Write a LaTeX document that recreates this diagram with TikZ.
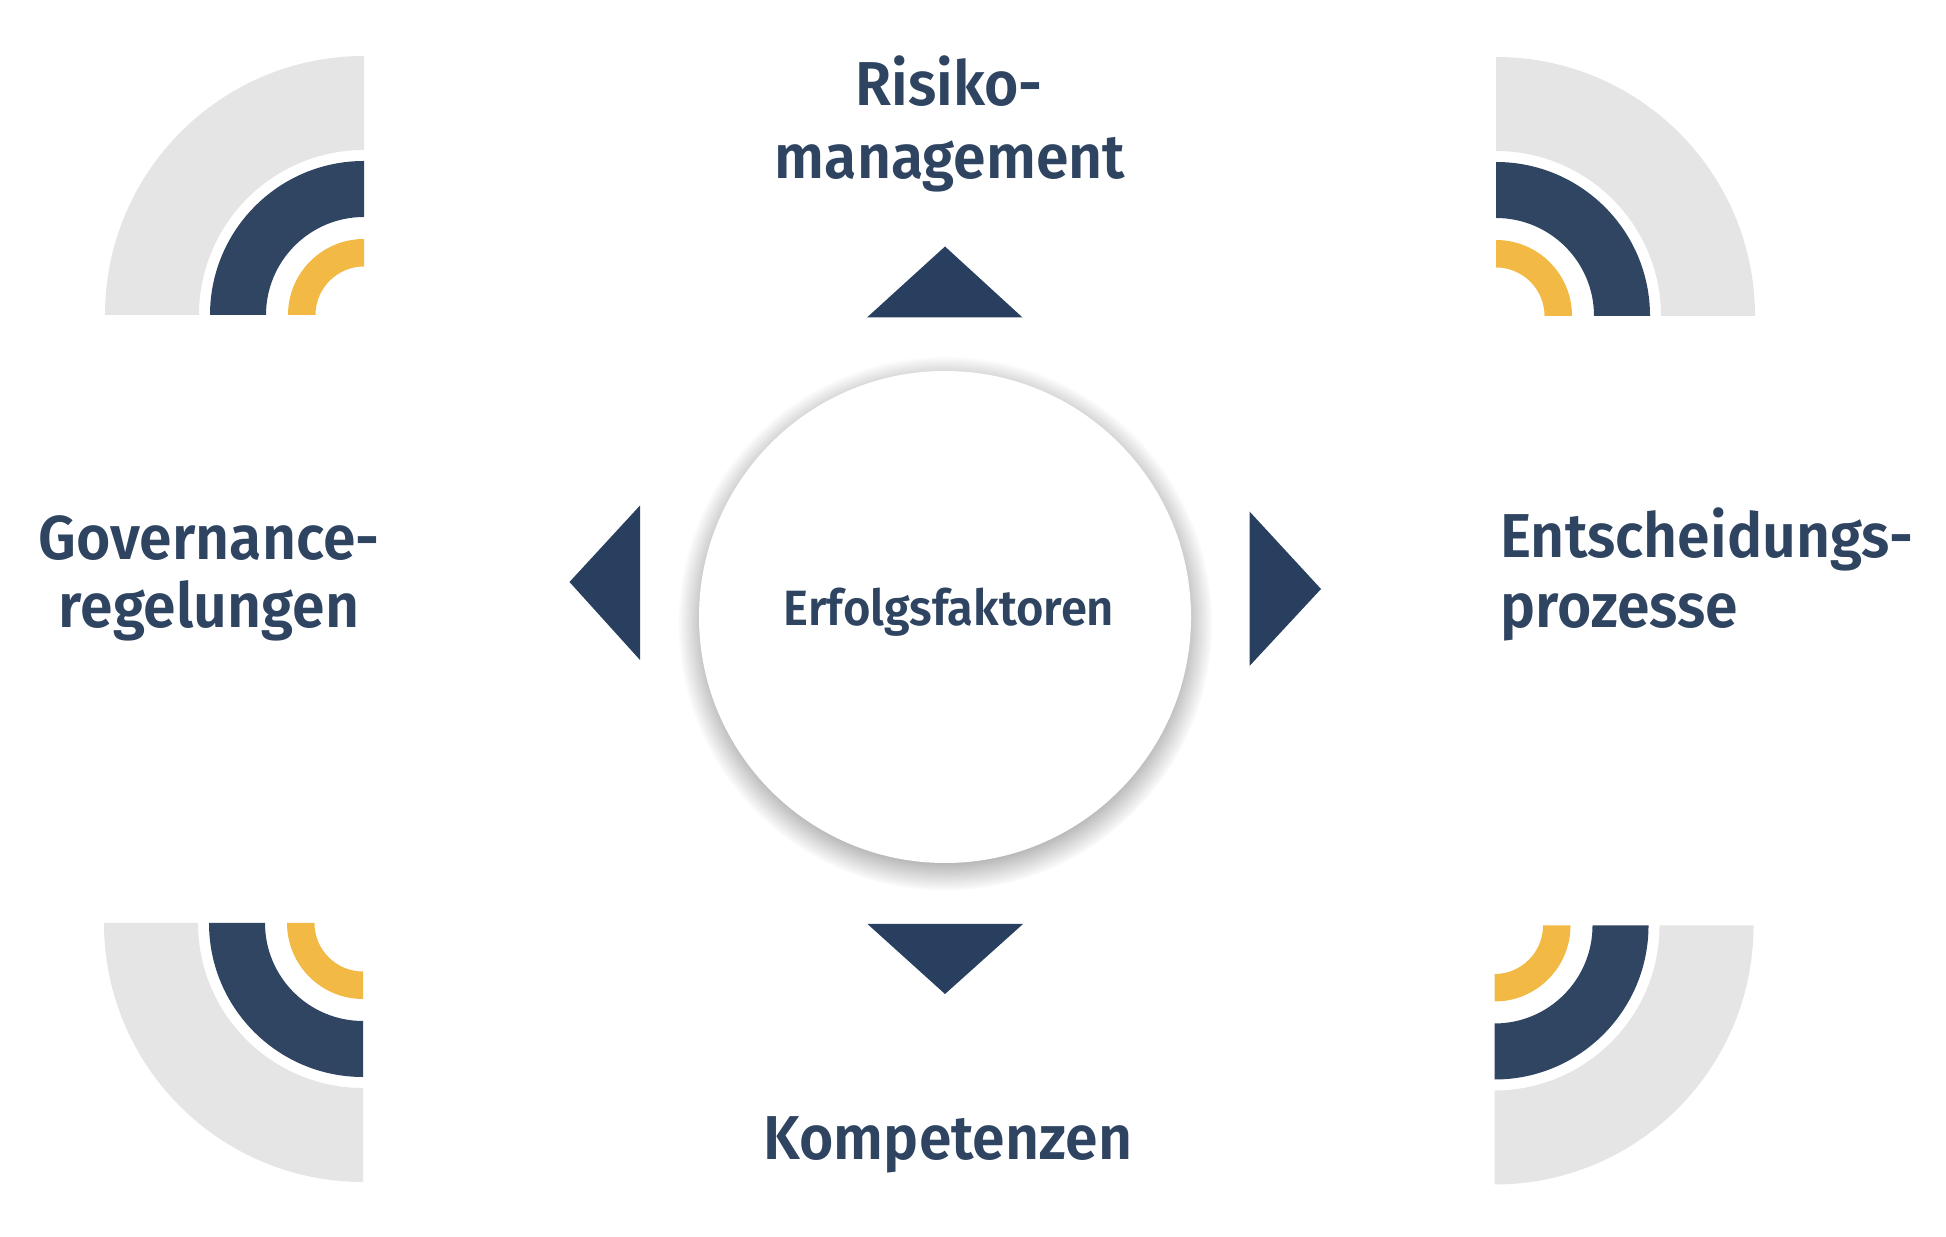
\documentclass[tikz,border=0pt]{standalone}
\usepackage{fontspec}
\setmainfont{Fira Sans}[BoldFont={Fira Sans SemiBold}, BoldFeatures={FakeStretch=0.95}]
\usetikzlibrary{shadows,fadings}
\definecolor{navyarc}{HTML}{304562}
\definecolor{navytri}{HTML}{283F5F}
\definecolor{txtc}{HTML}{2E4461}
\definecolor{ringgray}{HTML}{E5E5E5}
\definecolor{ringyel}{HTML}{F2BA45}
\newcommand\qring[5]{\fill[#5] (#1) ++({#2}:{#3}) arc[start angle={#2}, end angle={#2+90}, radius={#3}] -- ++({#2+270}:{#3-#4}) arc[start angle={#2+90}, end angle={#2}, radius={#4}] -- cycle;}
\tikzset{
  lbl/.style={font=\fontsize{31}{36}\selectfont\bfseries, text=txtc, inner sep=0pt, anchor=base},
  lblw/.style={lbl, anchor=base west},
  tri/.style={fill=navytri},
}
\begin{document}
\begin{tikzpicture}[x=0.5pt,y=0.5pt]
\useasboundingbox (0,0) rectangle (1946,1236);
% ring centres
\coordinate (tl) at (364,921);
\coordinate (tr) at (1496,920);
\coordinate (bl) at (363,313);
\coordinate (br) at (1494.5,310.5);
% top left
\qring{tl}{90}{259}{165}{ringgray}
\qring{tl}{90}{154}{98}{navyarc}
\qring{tl}{90}{76}{48.5}{ringyel}
% top right
\qring{tr}{0}{259}{165}{ringgray}
\qring{tr}{0}{154}{98}{navyarc}
\qring{tr}{0}{76}{48.5}{ringyel}
% bottom left
\qring{bl}{180}{259}{165}{ringgray}
\qring{bl}{180}{154}{98}{navyarc}
\qring{bl}{180}{76}{48.5}{ringyel}
% bottom right
\qring{br}{270}{259}{165}{ringgray}
\qring{br}{270}{154}{98}{navyarc}
\qring{br}{270}{76}{48.5}{ringyel}
% centre circle
\node[circle, fill=white, minimum size=246pt, inner sep=0pt,
  circular drop shadow={shadow scale=1.085, shadow xshift=0pt, shadow yshift=-3pt, fill=black!60, opacity=0.65}]
  (center) at (945,619) {};
\node[font=\fontsize{24.8}{28}\selectfont\bfseries, text=txtc, inner sep=0pt, anchor=base] (ctext) at (949,610.6) {Erfolgsfaktoren};
% triangles
\coordinate (ta) at (945,989.5);
\fill[tri] (ta) -- (1022.5,918.5) -- (867,918.5) -- cycle;
\fill[tri] (945,242) -- (1023,312) -- (867.5,312) -- cycle;
\fill[tri] (569.5,654) -- (640,730.5) -- (640,576) -- cycle;
\fill[tri] (1321,647) -- (1249.5,724.5) -- (1249.5,570) -- cycle;
% labels
\node[lbl] (risk1) at (949,1130) {Risiko-};
\node[lbl] (risk2) at (950,1057) {management};
\node[lbl] (gov1) at (209,676) {Governance-};
\node[lbl] (gov2) at (209,608) {regelungen};
\node[lblw] (ent1) at (1500,678) {Entscheidungs-};
\node[lblw] (ent2) at (1500,608) {prozesse};
\node[lbl] (komp) at (948,77) {Kompetenzen};
\end{tikzpicture}
\end{document}
